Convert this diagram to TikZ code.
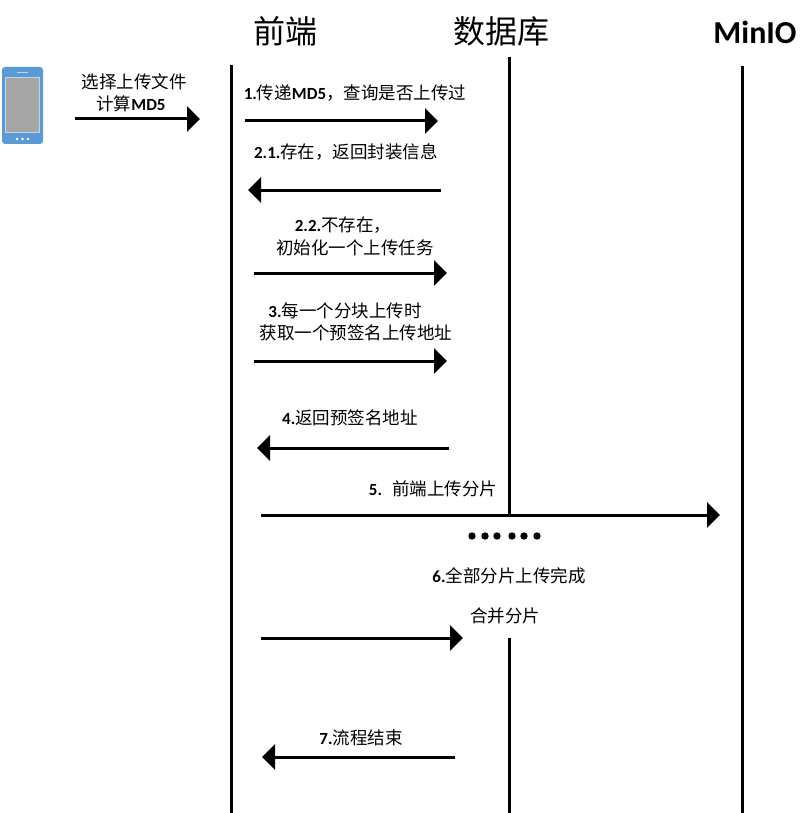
\documentclass[tikz,border=0pt]{standalone}
\usepackage{fontspec}
\usetikzlibrary{arrows.meta}
\setmainfont{Carlito}
\newfontfamily\cjk{Noto Sans CJK SC}
\newcommand{\lat}[1]{{\fontsize{17}{19}\selectfont\rmfamily\bfseries #1}}
\definecolor{phoneblue}{HTML}{5B9BD5}
\definecolor{phonelight}{HTML}{BDD7EE}
\definecolor{phonegray}{HTML}{A6A6A6}

\tikzset{
  lifeline/.style={line width=3pt},
  msg/.style={line width=3pt, -{Triangle[length=13pt,width=25pt]}},
  label/.style={inner sep=0pt, font=\fontsize{17.5}{19}\selectfont\cjk},
  head/.style={inner sep=0pt, font=\fontsize{32}{34}\selectfont\cjk},
}

\begin{document}
\begin{tikzpicture}[x=1pt, y=-1pt]
  \useasboundingbox (0, 0) rectangle (806, 813);

  % phone
  \fill[phoneblue, rounded corners=3pt] (2, 67) rectangle (43, 144);
  \fill[phonelight] (5, 77) rectangle (40, 133);
  \fill[phonegray] (6, 78) rectangle (39, 132);
  \foreach \x in {17, 22.5, 28} {
    \fill[white] (\x, 139) circle (1.3);
  }
  \draw[phonelight, line width=0.8pt] (17, 72) -- (28, 72);

  % heads
  \node[head] (front) at (285, 31) {前端};
  \node[head] (db) at (501, 31) {数据库};
  \node[inner sep=0pt, font=\fontsize{32}{34}\selectfont\bfseries] (minio) at (755, 32) {MinIO};

  % lifelines
  \coordinate (fronttop) at (231, 65);
  \coordinate (frontend) at (231, 813);
  \coordinate (dbtop) at (509, 57);
  \coordinate (dbmid) at (509, 515);
  \coordinate (dbnext) at (509, 638);
  \coordinate (dbend) at (509, 813);
  \coordinate (miniotop) at (742, 66);
  \coordinate (minioend) at (742, 813);
  \draw[lifeline] (fronttop) -- (frontend);
  \draw[lifeline] (dbtop) -- (dbmid);
  \draw[lifeline] (dbnext) -- (dbend);
  \draw[lifeline] (miniotop) -- (minioend);

  % messages
  \coordinate (a0) at (75, 119);
  \coordinate (b0) at (200, 119);
  \coordinate (a1) at (245, 121);
  \coordinate (b1) at (438, 121);
  \coordinate (a2) at (441, 190);
  \coordinate (b2) at (248, 190);
  \coordinate (a3) at (254, 273);
  \coordinate (b3) at (447, 273);
  \coordinate (a4) at (254, 361);
  \coordinate (b4) at (447, 361);
  \coordinate (a5) at (449, 448);
  \coordinate (b5) at (257, 448);
  \coordinate (a6) at (261, 515);
  \coordinate (b6) at (720, 515);
  \coordinate (a7) at (261, 638);
  \coordinate (b7) at (463, 638);
  \coordinate (a8) at (455, 757);
  \coordinate (b8) at (262, 757);
  \foreach \i in {0, ..., 8} {
    \draw[msg] (a\i) -- (b\i);
  }

  % labels
  \node[label] (l0a) at (134, 82) {选择上传文件};
  \node[label] (l0b) at (131, 104) {计算\lat{MD5}};
  \node[label] (l1) at (355, 93) {\lat{1.}传递\lat{MD5}，查询是否上传过};
  \node[label] (l2) at (346, 152) {\lat{2.1.}存在，返回封装信息};
  \node[label] (l3a) at (343, 225) {\lat{2.2.}不存在，};
  \node[label] (l3b) at (355, 248) {初始化一个上传任务};
  \node[label] (l4a) at (345, 311) {\lat{3.}每一个分块上传时};
  \node[label] (l4b) at (356, 333) {获取一个预签名上传地址};
  \node[label] (l5) at (350, 418) {\lat{4.}返回预签名地址};
  \node[label] (l6) at (433, 489) {\lat{5.}\hspace{10pt}前端上传分片};
  \node[label] (l7a) at (509, 576) {\lat{6.}全部分片上传完成};
  \node[label] (l7b) at (505, 616) {合并分片};
  \node[label] (l8) at (361, 738) {\lat{7.}流程结束};

  % dots
  \foreach \x in {472, 485, 497, 512, 524, 537} {
    \fill (\x, 536) circle (3.7);
  }
\end{tikzpicture}
\end{document}
